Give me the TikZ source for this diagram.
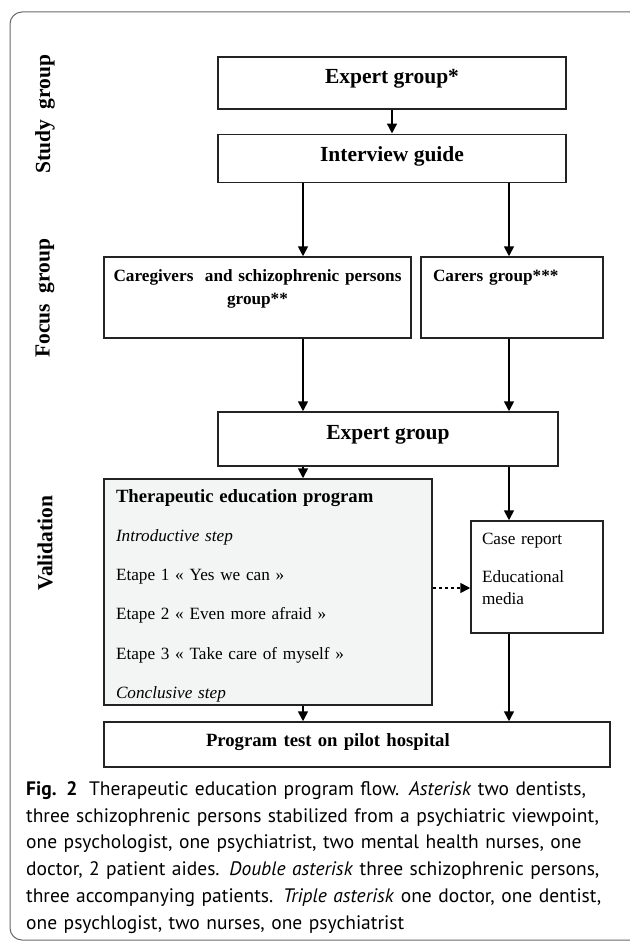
\documentclass[tikz,border=0pt]{standalone}
\usepackage{fontspec}
\setmainfont{Liberation Serif}
\newfontfamily\capfont{PT Sans}
\usetikzlibrary{arrows.meta,positioning}
\definecolor{framegray}{RGB}{105,105,105}
\definecolor{boxline}{RGB}{35,35,35}
\definecolor{progfill}{RGB}{243,245,244}
\tikzset{
  stagebox/.style={draw=boxline,line width=1.2pt,inner sep=0pt,text height=8pt,text depth=8pt,
    font=\fontsize{21.5pt}{26pt}\selectfont\bfseries},
  groupbox/.style={draw=boxline,line width=1.2pt,inner sep=0pt,minimum height=81pt,
    text height=14pt,text depth=47pt,font=\fontsize{17.2pt}{23pt}\selectfont\bfseries},
  listbox/.style={draw=boxline,line width=1.2pt,inner sep=0pt,align=left,text height=14pt},
  flowarrow/.style={-{Triangle[length=10pt,width=9.5pt]},line width=2.8pt},
  sidelabel/.style={rotate=90,font=\fontsize{21.5pt}{26pt}\selectfont\bfseries},
}

\begin{document}
\begin{tikzpicture}[x=1pt,y=-1pt]
  \useasboundingbox (0,0) rectangle (629,942);
  \draw[framegray,line width=1pt,rounded corners=12pt] (10,12) rectangle (642,940);
  \coordinate (leftcol) at (303,0);
  \coordinate (rightcol) at (509,0);
  \coordinate (dotrow) at (0,588);

  \node[sidelabel] (studylbl) at (45,114) {Study\ \ group};
  \node[sidelabel] (focuslbl) at (45,298) {Focus\ \ group};
  \node[sidelabel] (validlbl) at (45,543) {Validation};

  \node[stagebox,minimum width=348pt,minimum height=52pt] (expert) at (392,83) {Expert group*};
  \node[stagebox,minimum width=348pt,minimum height=48pt,text height=14pt,below=24pt of expert] (guide) {Interview guide};
  \node[groupbox,minimum width=307pt,text width=295pt,align=center] (mixedgroup) at (257.5,297.5)
    {Caregivers\ \ and schizophrenic persons\\group**};
  \node[groupbox,minimum width=182pt,text width=158pt,align=left] (carergroup) at (512,297.5) {Carers group***};
  \node[stagebox,minimum width=340pt,minimum height=54pt] (review) at (388,439) {Expert group};
  \node[listbox,fill=progfill,minimum width=328pt,minimum height=226pt,text width=304pt,text depth=194pt,
    font=\fontsize{17.2pt}{39.3pt}\selectfont] (program) at (268,592)
    {{\fontsize{18.7pt}{39.3pt}\selectfont\bfseries Therapeutic education program}\\
     \textit{Introductive step}\\
     Etape 1 « Yes we can »\\
     Etape 2 « Even more afraid »\\
     Etape 3 « Take care of myself »\\
     \textit{Conclusive step}};
  \node[listbox,minimum width=132pt,minimum height=112pt,text width=110pt,text depth=80pt,
    font=\fontsize{17.2pt}{22pt}\selectfont] (media) at (537,577) {Case report\\[16pt]Educational\\media};
  \node[stagebox,minimum width=506pt,minimum height=45pt,text width=302pt,align=left,text height=10pt,text depth=6pt,
    font=\fontsize{18.7pt}{22pt}\selectfont\bfseries] (pilot) at (357,744.5) {Program test on pilot hospital};

  \draw[flowarrow] (expert) -- (guide);
  \draw[flowarrow] (guide.south -| leftcol) -- (mixedgroup.north -| leftcol);
  \draw[flowarrow] (guide.south -| rightcol) -- (carergroup.north -| rightcol);
  \draw[flowarrow] (mixedgroup.south -| leftcol) -- (review.north -| leftcol);
  \draw[flowarrow] (carergroup.south -| rightcol) -- (review.north -| rightcol);
  \draw[flowarrow] (review.south -| leftcol) -- (program.north -| leftcol);
  \draw[flowarrow] (review.south -| rightcol) -- (media.north -| rightcol);
  \draw[flowarrow,dash pattern=on 3pt off 3pt] (program.east |- dotrow) -- (media.west |- dotrow);
  \draw[flowarrow] (program.south -| leftcol) -- (pilot.north -| leftcol);
  \draw[flowarrow] (media.south -| rightcol) -- (pilot.north -| rightcol);

  \node[anchor=base west,inner sep=0pt,text width=603pt,align=left,
    font=\capfont\fontsize{19.5pt}{26.7pt}\selectfont] (caption) at (26,795.5)
    {\textbf{Fig. 2}\hspace{0.6em}Therapeutic education program flow. \textit{Asterisk} two dentists,\\
     three schizophrenic persons stabilized from a psychiatric viewpoint,\\
     one psychologist, one psychiatrist, two mental health nurses, one\\
     doctor, 2 patient aides. \textit{Double asterisk} three schizophrenic persons,\\
     three accompanying patients. \textit{Triple asterisk} one doctor, one dentist,\\
     one psychlogist, two nurses, one psychiatrist};
\end{tikzpicture}
\end{document}
